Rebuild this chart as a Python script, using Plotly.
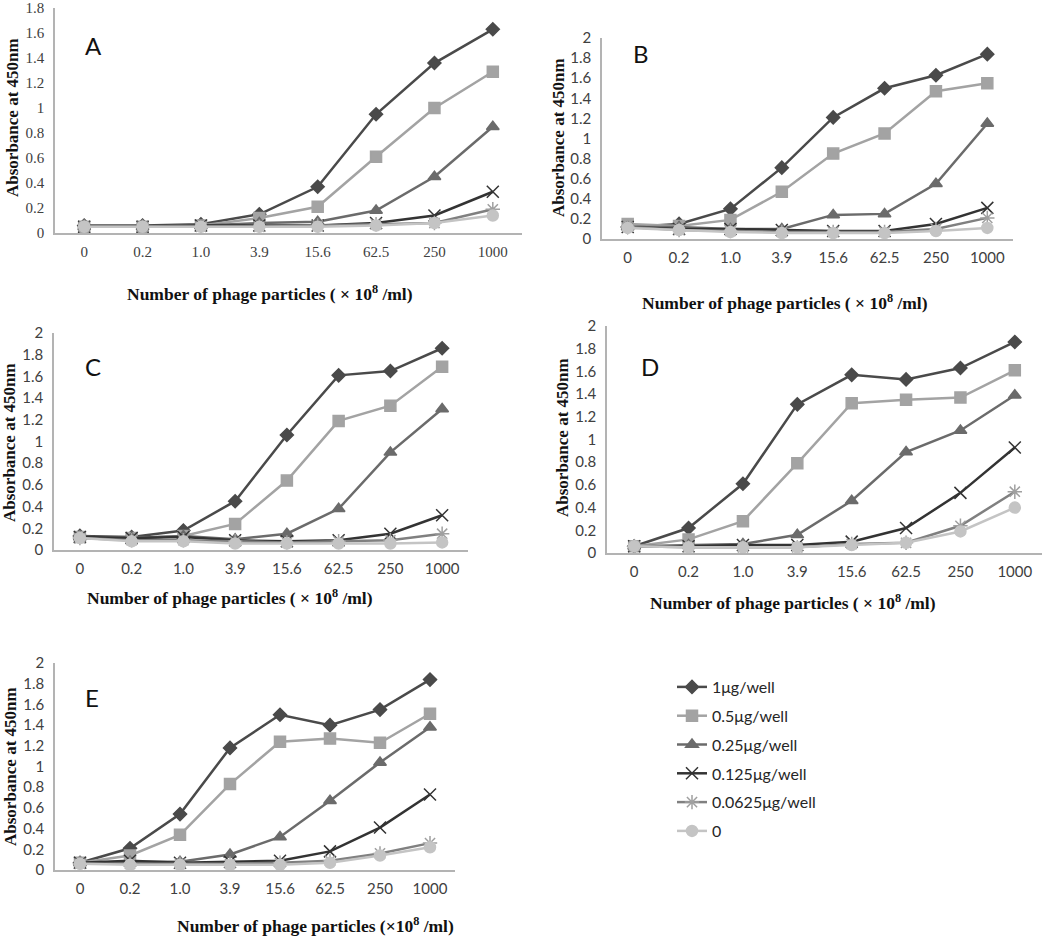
import plotly.graph_objects as go

W, H = 1050, 936

categories = ["0", "0.2", "1.0", "3.9", "15.6", "62.5", "250", "1000"]
series_names = ["1\u03bcg/well", "0.5\u03bcg/well", "0.25\u03bcg/well",
                "0.125\u03bcg/well", "0.0625\u03bcg/well", "0"]

# Panel A
A_1 = [0.06, 0.06, 0.07, 0.15, 0.37, 0.95, 1.36, 1.63]
A_05 = [0.05, 0.05, 0.06, 0.12, 0.21, 0.61, 1.00, 1.29]
A_025 = [0.05, 0.05, 0.06, 0.08, 0.09, 0.18, 0.45, 0.85]
A_0125 = [0.05, 0.05, 0.06, 0.06, 0.06, 0.08, 0.14, 0.33]
A_00625 = [0.05, 0.05, 0.05, 0.05, 0.06, 0.07, 0.08, 0.19]
A_0 = [0.05, 0.05, 0.05, 0.05, 0.05, 0.06, 0.08, 0.14]

# Panel B
B_1 = [0.12, 0.15, 0.30, 0.71, 1.21, 1.50, 1.63, 1.84]
B_05 = [0.15, 0.13, 0.19, 0.47, 0.85, 1.05, 1.47, 1.55]
B_025 = [0.12, 0.12, 0.10, 0.10, 0.24, 0.25, 0.55, 1.15]
B_0125 = [0.12, 0.10, 0.10, 0.09, 0.08, 0.08, 0.15, 0.31]
B_00625 = [0.12, 0.09, 0.08, 0.07, 0.07, 0.07, 0.10, 0.21]
B_0 = [0.11, 0.09, 0.07, 0.06, 0.06, 0.06, 0.08, 0.11]

# Panel C
C_1 = [0.13, 0.12, 0.18, 0.45, 1.06, 1.61, 1.65, 1.86]
C_05 = [0.12, 0.11, 0.13, 0.24, 0.64, 1.19, 1.33, 1.69]
C_025 = [0.12, 0.11, 0.13, 0.10, 0.15, 0.38, 0.90, 1.30]
C_0125 = [0.12, 0.11, 0.12, 0.09, 0.08, 0.09, 0.15, 0.32]
C_00625 = [0.11, 0.09, 0.09, 0.08, 0.07, 0.08, 0.09, 0.15]
C_0 = [0.11, 0.08, 0.08, 0.06, 0.06, 0.06, 0.06, 0.07]

# Panel D
D_1 = [0.06, 0.22, 0.61, 1.31, 1.57, 1.53, 1.63, 1.86]
D_05 = [0.06, 0.12, 0.28, 0.79, 1.32, 1.35, 1.37, 1.61]
D_025 = [0.06, 0.07, 0.08, 0.16, 0.46, 0.89, 1.08, 1.39]
D_0125 = [0.06, 0.06, 0.07, 0.07, 0.10, 0.22, 0.53, 0.93]
D_00625 = [0.06, 0.05, 0.05, 0.05, 0.08, 0.09, 0.24, 0.54]
D_0 = [0.06, 0.05, 0.05, 0.05, 0.07, 0.09, 0.19, 0.40]

# Panel E
E_1 = [0.07, 0.21, 0.54, 1.18, 1.50, 1.40, 1.55, 1.84]
E_05 = [0.07, 0.14, 0.34, 0.83, 1.24, 1.27, 1.23, 1.51]
E_025 = [0.07, 0.08, 0.08, 0.15, 0.32, 0.67, 1.04, 1.38]
E_0125 = [0.07, 0.09, 0.07, 0.08, 0.09, 0.18, 0.41, 0.73]
E_00625 = [0.06, 0.06, 0.06, 0.06, 0.07, 0.09, 0.16, 0.26]
E_0 = [0.06, 0.05, 0.05, 0.05, 0.05, 0.07, 0.14, 0.22]

panel_labels = ["A", "B", "C", "D", "E"]
panel_data = [
    [A_1, A_05, A_025, A_0125, A_00625, A_0],
    [B_1, B_05, B_025, B_0125, B_00625, B_0],
    [C_1, C_05, C_025, C_0125, C_00625, C_0],
    [D_1, D_05, D_025, D_0125, D_00625, D_0],
    [E_1, E_05, E_025, E_0125, E_00625, E_0],
]
y_max = [1.8, 2, 2, 2, 2]

# styles
line_colors = ["#4a4a4a", "#a3a3a3", "#6b6b6b", "#333333", "#808080", "#c4c4c4"]
marker_colors = ["#4a4a4a", "#a3a3a3", "#6b6b6b", "#333333", "#a0a0a0", "#c4c4c4"]
symbols = ["diamond", "square", "triangle-up", "x-thin-open", "asterisk-open", "circle"]
msizes = [10, 11, 11, 12, 12, 11]

# panel geometry in pixels: (x_left, x_right, y_zero_px, y_top_px)
geom = [
    (55, 522, 233, 8),
    (602, 1013, 239, 38),
    (54, 468, 550, 333),
    (607, 1042, 553, 326),
    (55, 455, 870, 663),
]
ytitle_pos = [(12, 118), (558, 138), (9, 443), (562, 438), (10, 767)]
xtitle_pos = [(270, 293), (785, 302), (230, 597), (793, 602), (315, 925)]
letter_pos = [(93, 45), (641, 53), (93, 367), (650, 367), (92, 697)]
xtitle_texts = [
    "Number of phage particles ( \u00d7 10<sup>8</sup> /ml)",
    "Number of phage particles ( \u00d7 10<sup>8</sup> /ml)",
    "Number of phage particles ( \u00d7 10<sup>8</sup> /ml)",
    "Number of phage particles ( \u00d7 10<sup>8</sup> /ml)",
    "Number of phage particles (\u00d710<sup>8</sup> /ml)",
]

SERIF = "Liberation Serif, Times New Roman, serif"
SANS = "Lato, Liberation Sans, sans-serif"

fig = go.Figure()
layout = dict(
    width=W, height=H,
    margin=dict(l=0, r=0, t=0, b=0, autoexpand=False),
    paper_bgcolor="white", plot_bgcolor="white",
    showlegend=True,
    annotations=[],
)

for p in range(5):
    xl, xr, y0, yt = geom[p]
    xa = "xaxis" if p == 0 else f"xaxis{p+1}"
    ya = "yaxis" if p == 0 else f"yaxis{p+1}"
    xref = "x" if p == 0 else f"x{p+1}"
    yref = "y" if p == 0 else f"y{p+1}"
    tickfont = dict(family=SERIF if p == 0 else SANS, size=15, color="#404040")
    layout[xa] = dict(
        domain=[xl / W, xr / W], anchor=yref, type="category",
        range=[-0.5, 7.5], categoryorder="array", categoryarray=categories,
        showline=True, linecolor="#b3b3b3", linewidth=1.5, showgrid=False,
        ticks="", tickfont=tickfont, zeroline=False, fixedrange=True,
        automargin=False, ticklabelstandoff=4,
    )
    layout[ya] = dict(
        domain=[1 - y0 / H, 1 - yt / H], anchor=xref,
        range=[0, y_max[p] + 0.0005], tick0=0, dtick=0.2, showline=True,
        linecolor="#b3b3b3", linewidth=1.5, showgrid=False, ticks="",
        tickfont=tickfont, zeroline=False, fixedrange=True, automargin=False,
        ticklabelstandoff=6,
    )
    for s in range(6):
        fig.add_trace(go.Scatter(
            x=categories, y=panel_data[p][s], name=series_names[s],
            xaxis=xref, yaxis=yref, mode="lines+markers",
            line=dict(color=line_colors[s], width=2.5),
            marker=dict(symbol=symbols[s], size=msizes[s], color=marker_colors[s],
                        line=dict(color=marker_colors[s], width=1.5)),
            showlegend=(p == 0), legendgroup=series_names[s],
        ))
    tx, ty = ytitle_pos[p]
    layout["annotations"].append(dict(
        text="<b>Absorbance at 450nm</b>", x=tx / W, y=1 - ty / H,
        xref="paper", yref="paper", textangle=-90, showarrow=False,
        font=dict(family=SERIF, size=17, color="#111111"),
        xanchor="center", yanchor="middle",
    ))
    tx, ty = xtitle_pos[p]
    layout["annotations"].append(dict(
        text="<b>" + xtitle_texts[p] + "</b>", x=tx / W, y=1 - ty / H,
        xref="paper", yref="paper", showarrow=False,
        font=dict(family=SERIF, size=17.5, color="#111111"),
        xanchor="center", yanchor="middle",
    ))
    tx, ty = letter_pos[p]
    layout["annotations"].append(dict(
        text=panel_labels[p], x=tx / W, y=1 - ty / H,
        xref="paper", yref="paper", showarrow=False,
        font=dict(family=SANS, size=24, color="#111111"),
        xanchor="center", yanchor="middle",
    ))

layout["legend"] = dict(
    x=672 / W, y=1 - 670 / H, xanchor="left", yanchor="top",
    font=dict(family=SANS, size=16, color="#262626"),
    bgcolor="rgba(0,0,0,0)", tracegroupgap=5,
)

fig.update_layout(**layout)
fig.write_html(
    "out.html",
    config={"displayModeBar": False},
    post_script="document.body.style.margin='0';document.body.style.overflow='hidden';",
)
